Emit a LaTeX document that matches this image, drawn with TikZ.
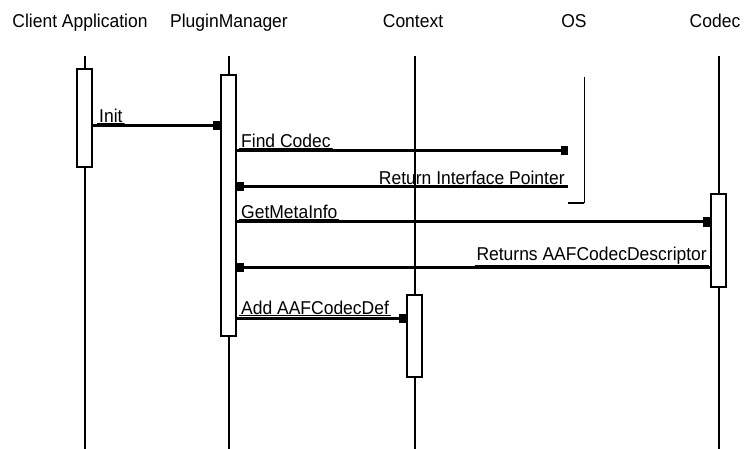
\documentclass[tikz,border=0pt]{standalone}
\usepackage{fontspec}
\setmainfont{Liberation Sans}[FakeStretch=0.94]
\usetikzlibrary{arrows.meta}
\begin{document}
\begin{tikzpicture}[x=1pt,y=-1pt,
  font=\fontsize{18.6}{21}\selectfont,
  life/.style={line width=2pt},
  act/.style={draw,line width=2pt,fill=white,minimum width=15pt,inner sep=0pt},
  msg/.style={line width=3pt,-{Rectangle[length=7pt,width=9pt]}},
  lbl/.style={inner xsep=2pt,inner ysep=1pt,
    path picture={\draw[line width=1.2pt] (path picture bounding box.south west) -- (path picture bounding box.south east);}}]
\useasboundingbox (0,0) rectangle (744,449);
% heads
\node[anchor=base] (hca) at (80,28) {Client Application};
\node[anchor=base] (hpm) at (229,28) {PluginManager};
\node[anchor=base] (hctx) at (413,28) {Context};
\node[anchor=base] (hos) at (574,28) {OS};
\node[anchor=base] (hcod) at (715,28) {Codec};
% lifelines
\coordinate (cat) at (84.5,56);  \coordinate (cab) at (84.5,449);
\coordinate (pmt) at (228.5,56); \coordinate (pmb) at (228.5,449);
\coordinate (ctt) at (414.5,56); \coordinate (ctb) at (414.5,449);
\coordinate (cot) at (718.5,56); \coordinate (cob) at (718.5,449);
\draw[life] (cat) -- (cab);
\draw[life] (pmt) -- (pmb);
\draw[life] (ctt) -- (ctb);
\draw[life] (cot) -- (cob);
% activations
\node[act,minimum height=98pt] (caact) at (84.5,118) {};
\node[act,minimum height=261pt] (pmact) at (228.5,205.5) {};
\node[act,minimum height=82pt] (ctact) at (414.5,336) {};
\node[act,minimum height=93pt] (coact) at (718.5,240.5) {};
\node[minimum width=16pt,minimum height=126pt,inner sep=0pt] (osact) at (576,140) {};
\draw[line width=0.9pt] (osact.north east) -- (osact.south east);
\draw[line width=2pt] (osact.south west) -- (osact.south east);
% message levels
\coordinate (y1) at (0,126);
\coordinate (y2) at (0,151);
\coordinate (y3) at (0,187);
\coordinate (y4) at (0,222);
\coordinate (y5) at (0,267);
\coordinate (y6) at (0,318);
% messages
\draw[msg] (caact.east |- y1) -- (pmact.west |- y1);
\node[lbl,anchor=south west] (l1) at ([xshift=4pt,yshift=2pt]caact.east |- y1) {Init};
\draw[msg] (pmact.east |- y2) -- (osact.west |- y2);
\node[lbl,anchor=south west] (l2) at ([xshift=2pt,yshift=2pt]pmact.east |- y2) {Find Codec};
\draw[msg] (osact.west |- y3) -- (pmact.east |- y3);
\node[lbl,anchor=south east] (l3) at ([xshift=-1pt,yshift=1pt]osact.west |- y3) {Return Interface Pointer};
\draw[msg] (pmact.east |- y4) -- (coact.west |- y4);
\node[lbl,anchor=south west] (l4) at ([xshift=2pt,yshift=2pt]pmact.east |- y4) {GetMetaInfo};
\draw[msg] (coact.west |- y5) -- (pmact.east |- y5);
\node[lbl,anchor=south east] (l5) at ([xshift=-1pt,yshift=1pt]coact.west |- y5) {Returns AAFCodecDescriptor};
\draw[msg] (pmact.east |- y6) -- (ctact.west |- y6);
\node[lbl,anchor=south west] (l6) at ([xshift=2pt,yshift=2pt]pmact.east |- y6) {Add AAFCodecDef};
\end{tikzpicture}
\end{document}
